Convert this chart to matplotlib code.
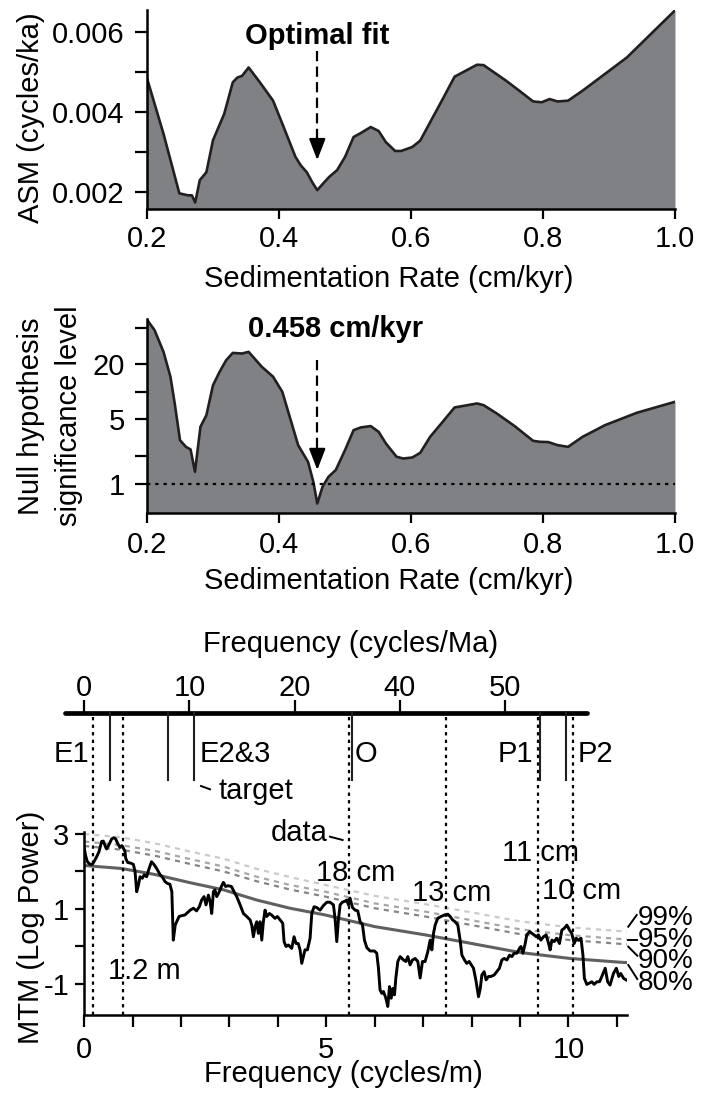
import matplotlib
matplotlib.use('Agg')
import matplotlib.pyplot as plt
from matplotlib.lines import Line2D

plt.rcParams['font.family'] = ['Liberation Sans', 'DejaVu Sans']
plt.rcParams['axes.unicode_minus'] = False

# ---------------- data ----------------
# Panel 1: ASM vs sedimentation rate
sed_rate_asm = [0.200, 0.225, 0.249, 0.262, 0.268, 0.273, 0.280, 0.290, 0.300, 0.317,
                0.330, 0.337, 0.344, 0.354, 0.371, 0.391, 0.408, 0.425, 0.433, 0.442,
                0.451, 0.458, 0.466, 0.476, 0.488, 0.500, 0.513, 0.524, 0.539, 0.551,
                0.562, 0.576, 0.585, 0.602, 0.614, 0.629, 0.649, 0.666, 0.683, 0.700,
                0.710, 0.744, 0.764, 0.785, 0.798, 0.810, 0.822, 0.838, 0.860, 0.927, 1.000]
asm = [0.00485, 0.00346, 0.00197, 0.00192, 0.00192, 0.00174, 0.00230, 0.00250, 0.00330, 0.00396,
       0.00475, 0.00487, 0.00491, 0.00512, 0.00475, 0.00429, 0.00359, 0.00288, 0.00267, 0.00250,
       0.00223, 0.00205, 0.00220, 0.00238, 0.00255, 0.00288, 0.00338, 0.00348, 0.00363, 0.00353,
       0.00325, 0.00303, 0.00303, 0.00313, 0.00329, 0.00375, 0.00436, 0.00489, 0.00504, 0.00519,
       0.00518, 0.00479, 0.00454, 0.00427, 0.00425, 0.00433, 0.00427, 0.00429, 0.00454, 0.00537, 0.00655]

# Panel 2: null hypothesis significance level
sed_rate_h0 = [0.200, 0.2115, 0.225, 0.2355, 0.242, 0.250, 0.259, 0.266, 0.2727, 0.281,
               0.290, 0.300, 0.310, 0.320, 0.330, 0.344, 0.354, 0.374, 0.391, 0.405,
               0.417, 0.429, 0.444, 0.452, 0.458, 0.466, 0.475, 0.486, 0.500, 0.513,
               0.524, 0.539, 0.551, 0.562, 0.578, 0.588, 0.602, 0.614, 0.629, 0.646,
               0.666, 0.683, 0.700, 0.710, 0.730, 0.757, 0.785, 0.795, 0.808, 0.822,
               0.838, 0.860, 0.894, 0.942, 1.000]
h0_sig = [61, 46.8, 27.2, 14.6, 7.47, 2.98, 2.52, 2.36, 1.35, 4.17,
          5.57, 11.8, 16.5, 22.1, 26.5, 26.1, 27.2, 18.7, 14.6, 10.0,
          5.13, 2.63, 1.73, 1.05, 0.61, 0.93, 1.19, 1.41, 2.32, 3.83,
          4.10, 4.24, 3.67, 2.74, 1.97, 1.88, 1.93, 2.17, 3.24, 4.53,
          6.76, 7.10, 7.47, 7.16, 5.81, 4.24, 2.93, 2.86, 2.84, 2.63,
          2.52, 3.24, 4.34, 5.91, 7.79]
optimal_rate = 0.458

# Panel 4: MTM spectrum (cycles/m, log power)
mtm_freq = [0.00, 0.03, 0.065, 0.12, 0.168, 0.21, 0.26, 0.306, 0.36, 0.395,
            0.43, 0.464, 0.51, 0.568, 0.61, 0.65, 0.69, 0.74, 0.774, 0.81,
            0.843, 0.857, 0.898, 0.967, 1.015, 1.05, 1.084, 1.12, 1.153, 1.20,
            1.24, 1.29, 1.34, 1.39, 1.44, 1.50, 1.57, 1.61, 1.67, 1.72,
            1.77, 1.81, 1.84, 1.88, 1.91, 1.96, 2.01, 2.08, 2.14, 2.19,
            2.255, 2.32, 2.378, 2.426, 2.475, 2.516, 2.565, 2.60, 2.634, 2.668,
            2.70, 2.737, 2.79, 2.84, 2.875, 2.92, 2.97, 3.04, 3.095, 3.15,
            3.22, 3.288, 3.357, 3.426, 3.46, 3.494, 3.53, 3.563, 3.597, 3.632,
            3.667, 3.70, 3.735, 3.77, 3.825, 3.87, 3.94, 3.99, 4.045, 4.10,
            4.128, 4.169, 4.217, 4.286, 4.334, 4.375, 4.42, 4.458, 4.493, 4.527,
            4.56, 4.61, 4.665, 4.70, 4.747, 4.80, 4.872, 4.94,
            5.01, 5.078, 5.147, 5.18, 5.216, 5.25, 5.285, 5.33, 5.39, 5.423, 5.457,
            5.49, 5.54, 5.595, 5.65, 5.698, 5.746, 5.788, 5.836, 5.905, 5.994,
            6.042, 6.077, 6.11, 6.146, 6.18, 6.23, 6.27, 6.305, 6.34, 6.374,
            6.408, 6.436, 6.477, 6.525, 6.594, 6.642, 6.683, 6.73, 6.78, 6.834,
            6.89, 6.938, 6.986, 7.04, 7.096, 7.145, 7.18, 7.214, 7.248, 7.30,
            7.37, 7.44, 7.51, 7.558, 7.607, 7.66, 7.716, 7.764, 7.80, 7.854,
            7.90, 7.95,
            8.04, 8.095, 8.143, 8.18, 8.212, 8.26, 8.30, 8.35, 8.398, 8.467,
            8.52, 8.576, 8.625, 8.674, 8.73, 8.784, 8.832, 8.88, 8.935, 8.99,
            9.02, 9.06, 9.108, 9.14, 9.20, 9.245, 9.29, 9.335, 9.38, 9.43,
            9.486, 9.54, 9.59, 9.623, 9.658, 9.706, 9.76, 9.816, 9.865, 9.91,
            9.968, 10.02, 10.07, 10.12, 10.16, 10.21, 10.26, 10.30, 10.33, 10.38,
            10.43, 10.485, 10.53, 10.59, 10.643,
            10.69, 10.76, 10.81, 10.86, 10.93, 10.99, 11.04, 11.08, 11.14, 11.19]
mtm_power = [2.62, 2.42, 2.26, 2.19, 2.19, 2.28, 2.40, 2.53, 2.80, 2.81,
             2.69, 2.60, 2.71, 2.87, 2.90, 2.87, 2.75, 2.64, 2.69, 2.62,
             2.53, 2.35, 2.24, 2.22, 2.19, 2.00, 1.46, 1.64, 1.86, 1.82,
             1.91, 1.86, 2.08, 2.26, 2.19, 2.07, 1.91, 1.86, 1.73, 1.68,
             1.66, 1.46, 0.17, 0.57, 0.66, 0.80, 0.82, 0.84, 0.91, 0.97,
             1.02, 0.95, 1.06, 1.24, 1.33, 1.11, 1.37, 1.20, 0.88, 1.46,
             1.51, 1.33, 1.46, 1.62, 1.71, 1.60, 1.62, 1.60, 1.46, 1.33,
             1.11, 0.88, 0.80, 0.71, 0.57, 0.26, 0.53, 0.66, 0.35, 0.66,
             0.17, 0.66, 0.97, 0.80, 0.88, 0.84, 0.75, 0.80, 0.71, 0.62,
             0.13, 0.00, 0.04, -0.05, 0.26, 0.08, 0.08, -0.09, -0.45, -0.27,
             -0.09, -0.09, 0.22, 0.88, 1.06, 1.04, 0.97, 1.09,
             1.18, 1.18, 1.11, 0.75, 0.13, 0.71, 1.11, 1.18, 1.21, 1.24, 1.11,
             1.29, 1.04, 0.97, 0.95, 0.66, 0.59, 0.17, -0.03, -0.12, -0.12,
             -0.18, -0.58, -1.16, -1.25, -1.20, -1.38, -1.60, -1.07, -1.38, -1.12,
             -1.29, -0.84, -0.40, -0.27, -0.36, -0.40, -0.27, -0.49, -0.36, -0.32,
             -0.40, -0.84, -0.40, -0.40, -0.14, 0.17, -0.09, 0.35, 0.57, 0.75,
             0.80, 0.84, 0.86, 0.80, 0.71, 0.66, 0.57, 0.17, -0.23, -0.36,
             -0.45, -0.40,
             -0.58, -0.94, -1.34, -1.12, -0.76, -0.67, -0.89, -0.80, -0.80, -0.76,
             -0.67, -0.58, -0.36, -0.32, -0.36, -0.23, -0.27, -0.18, -0.18, -0.05,
             0.00, -0.18, 0.08, 0.31, 0.40, 0.35, 0.31, 0.26, 0.31, 0.17,
             0.26, 0.31, 0.08, -0.09, 0.17, 0.13, 0.22, 0.08, 0.44, 0.48,
             0.57, 0.44, 0.35, 0.08, 0.22, 0.17, 0.22, -0.23, -0.85, -1.01,
             -0.98, -0.94, -1.01, -0.94, -0.94,
             -0.80, -0.58, -0.94, -1.03, -0.72, -0.58, -0.80, -0.72, -0.85, -0.89]

# confidence levels (red-noise model)
conf_freq = [0, 0.77, 1.46, 2.19, 2.88, 3.56, 4.25, 4.98, 6.0, 7.04, 8.0, 9.0, 10.04, 11.07, 11.22]
conf_80 = [2.16, 2.08, 1.92, 1.70, 1.51, 1.24, 1.02, 0.84, 0.53, 0.31, 0.08, -0.16, -0.32, -0.42, -0.43]
conf_90 = [2.68, 2.58, 2.42, 2.20, 2.00, 1.74, 1.52, 1.33, 1.02, 0.80, 0.57, 0.33, 0.17, 0.07, 0.06]
conf_95 = [2.80, 2.70, 2.55, 2.33, 2.13, 1.86, 1.64, 1.46, 1.15, 0.93, 0.70, 0.46, 0.30, 0.20, 0.19]
conf_99 = [3.00, 2.91, 2.75, 2.53, 2.34, 2.07, 1.85, 1.64, 1.35, 1.13, 0.91, 0.67, 0.51, 0.41, 0.40]

# data peaks (cycles/m) and astronomical targets (cycles/Ma)
data_peaks = [0.185, 0.80, 5.47, 7.48, 9.38, 10.09]
target_freqs = [2.45, 8.0, 10.44, 25.45, 43.3, 45.8]
top_tick_pos = [0, 10, 20, 30, 40]
top_tick_labels = ['0', '10', '20', '40', '50']
cycles_per_m_to_Ma = 4.6

# ---------------- figure ----------------
W, H = 701, 1097
fig = plt.figure(figsize=(W / 100, H / 100), dpi=100)
FS = 21
HALF_CAP = 10.6
FILL = '#808184'
LINE = '#231f20'


def fx(px):
    return px / W


def fy(py):
    return 1 - py / H


def add_ax(l, t, r, b):
    return fig.add_axes([l / W, 1 - b / H, (r - l) / W, (b - t) / H])


def style(ax, lenx=8, leny=9, padx=6, pady=7):
    for s in ['top', 'right']:
        ax.spines[s].set_visible(False)
    for s in ['left', 'bottom']:
        ax.spines[s].set_linewidth(1.8)
    ax.tick_params(axis='x', which='both', length=lenx, width=1.6, labelsize=FS, pad=padx)
    ax.tick_params(axis='y', which='both', length=leny, width=1.6, labelsize=FS, pad=pady)


def txt(px, py, s, ha='left', size=FS, **kw):
    # py = visual centre of the capitals
    fig.text(fx(px), fy(py + HALF_CAP * size / FS), s, ha=ha, va='baseline', fontsize=size, **kw)


def seg(x0, y0, x1, y1, lw=1.4):
    fig.add_artist(Line2D([fx(x0), fx(x1)], [fy(y0), fy(y1)], transform=fig.transFigure,
                          color='k', lw=lw))


def dashed_arrow(ax, x, y_start, y_tip, y_head):
    ax.plot([x, x], [y_start, y_head], color='k', lw=1.6, linestyle=(0, (4.6, 2.4)))
    ax.annotate('', xy=(x, y_tip), xytext=(x, y_head),
                arrowprops=dict(arrowstyle='-|>,head_length=1.3,head_width=0.5',
                                color='k', lw=1.6, shrinkA=0, shrinkB=0))


# ---- panel 1 ----
ax1 = add_ax(147, 10, 675, 209.3)
lo1, hi1 = 0.00157, 0.00656
ax1.fill_between(sed_rate_asm, asm, lo1, color=FILL, lw=0)
ax1.plot(sed_rate_asm, asm, color=LINE, lw=1.9)
ax1.set_xlim(0.2, 1.0)
ax1.set_ylim(lo1, hi1)
ax1.set_xticks([0.2, 0.4, 0.6, 0.8, 1.0])
ax1.set_xticklabels(['0.2', '0.4', '0.6', '0.8', '1.0'])
ax1.set_yticks([0.002, 0.004, 0.006])
ax1.set_yticklabels(['0.002', '0.004', '0.006'])
ax1.set_yticks([0.003, 0.005], minor=True)
style(ax1, lenx=7, leny=9, padx=4.5, pady=7)
dashed_arrow(ax1, optimal_rate, 0.00553, 0.00280, 0.00330)
txt(317, 33.3, 'Optimal fit', ha='center', fontweight='bold')

# ---- panel 2 ----
ax2 = add_ax(147, 319.3, 675, 513.3)
lo2, hi2 = 0.477, 61.5
ax2.set_yscale('log')
ax2.fill_between(sed_rate_h0, h0_sig, lo2, color=FILL, lw=0)
ax2.plot(sed_rate_h0, h0_sig, color=LINE, lw=1.9)
ax2.axhline(1, color='k', lw=1.6, linestyle=(0, (1.5, 2.2)))
ax2.set_xlim(0.2, 1.0)
ax2.set_ylim(lo2, hi2)
ax2.set_xticks([0.2, 0.4, 0.6, 0.8, 1.0])
ax2.set_xticklabels(['0.2', '0.4', '0.6', '0.8', '1.0'])
ax2.set_yticks([1, 5, 20])
ax2.set_yticklabels(['1', '5', '20'])
ax2.set_yticks([2, 10, 50], minor=True)
ax2.set_yticklabels(['', '', ''], minor=True)
style(ax2, lenx=7, leny=9, padx=6, pady=7)
dashed_arrow(ax2, optimal_rate, 22.1, 1.41, 2.33)
txt(335.5, 326.7, '0.458 cm/kyr', ha='center', fontweight='bold')

# ---- panel 4 (MTM) ----
ax4 = add_ax(84.2, 831.7, 627, 1015)
ax4.patch.set_alpha(0)
ax4.plot(conf_freq, conf_99, color='#cacaca', lw=1.6, linestyle=(0, (2.3, 2.3)))
ax4.plot(conf_freq, conf_95, color='#a6a6a6', lw=1.6, linestyle=(0, (2.3, 2.3)))
ax4.plot(conf_freq, conf_90, color='#858585', lw=1.6, linestyle=(0, (2.3, 2.3)))
ax4.plot(conf_freq, conf_80, color='#606060', lw=2.2)
ax4.plot(mtm_freq, mtm_power, color='k', lw=2.1)
ax4.set_xlim(0, 11.21)
ax4.set_ylim(-1.827, 3.061)
ax4.set_xticks([0, 5, 10])
ax4.set_xticklabels(['0', '5', '10'])
ax4.set_xticks(range(0, 12), minor=True)
ax4.set_yticks([-1, 1, 3])
ax4.set_yticklabels(['-1', '1', '3'])
ax4.set_yticks([0, 2], minor=True)
style(ax4, lenx=8.4, leny=6.2, padx=7, pady=4.5)
top_axes = (1015 - 716) / (1015 - 831.7)
for f in data_peaks:
    ax4.plot([f, f], [0, top_axes], transform=ax4.get_xaxis_transform(), clip_on=False,
             color='k', lw=1.6, linestyle=(0, (1.5, 1.9)))

# ---- panel 3 (frequency scale / targets) ----
ax3 = add_ax(84.2, 713.3, 627, 780)
ax3.set_frame_on(False)
ax3.set_xlim(0, 11.21 * cycles_per_m_to_Ma)
ax3.set_ylim(0, 1)
ax3.yaxis.set_visible(False)
ax3.xaxis.tick_top()
ax3.set_xticks(top_tick_pos)
ax3.set_xticklabels(top_tick_labels)
ax3.tick_params(axis='x', length=9.4, width=1.6, labelsize=FS, pad=-1.5)
ax3.plot([-1.83, 47.75], [1, 1], transform=ax3.get_xaxis_transform(), clip_on=False,
         color='k', lw=3.4, solid_capstyle='round')
for f in target_freqs:
    ax3.plot([f, f], [0, 1], transform=ax3.get_xaxis_transform(), clip_on=False,
             color='#231f20', lw=1.5)

# ---- axis titles ----
fig.text(fx(31.3), fy(118), 'ASM (cycles/ka)', rotation=90, ha='center', va='center', fontsize=FS)
fig.text(fx(31.3), fy(416), 'Null hypothesis', rotation=90, ha='center', va='center', fontsize=FS)
fig.text(fx(69.4), fy(416), 'significance level', rotation=90, ha='center', va='center', fontsize=FS)
fig.text(fx(31.3), fy(927), 'MTM (Log Power)', rotation=90, ha='center', va='center', fontsize=FS)
txt(388.5, 276, 'Sedimentation Rate (cm/kyr)', ha='center')
txt(388.5, 578.3, 'Sedimentation Rate (cm/kyr)', ha='center')
txt(350.4, 641.7, 'Frequency (cycles/Ma)', ha='center')
txt(343.7, 1071.7, 'Frequency (cycles/m)', ha='center')

# ---- annotations ----
txt(89.3, 751.7, 'E1', ha='right')
txt(199.3, 751.7, 'E2&3')
txt(355, 751.7, 'O')
txt(533, 751.7, 'P1', ha='right')
txt(577.7, 751.7, 'P2')
txt(218.3, 788, 'target')
seg(201, 786, 210, 789.3)
txt(271, 830, 'data')
seg(330, 836.7, 342.6, 840)
txt(315.7, 870, '18 cm')
txt(412, 890, '13 cm')
txt(501.7, 850, '11 cm')
txt(541.7, 888.3, '10 cm')
txt(108.3, 968.3, '1.2 m')
for lbl, yc in [('99%', 915), ('95%', 936.7), ('90%', 958), ('80%', 980)]:
    txt(637.3, yc, lbl, size=20)
seg(628.3, 926.7, 636.7, 915)
seg(628.3, 940, 636.7, 940)
seg(628.3, 946.7, 637.3, 955.7)
seg(628.3, 965, 637.3, 979)

fig.savefig('out.png', dpi=100)
